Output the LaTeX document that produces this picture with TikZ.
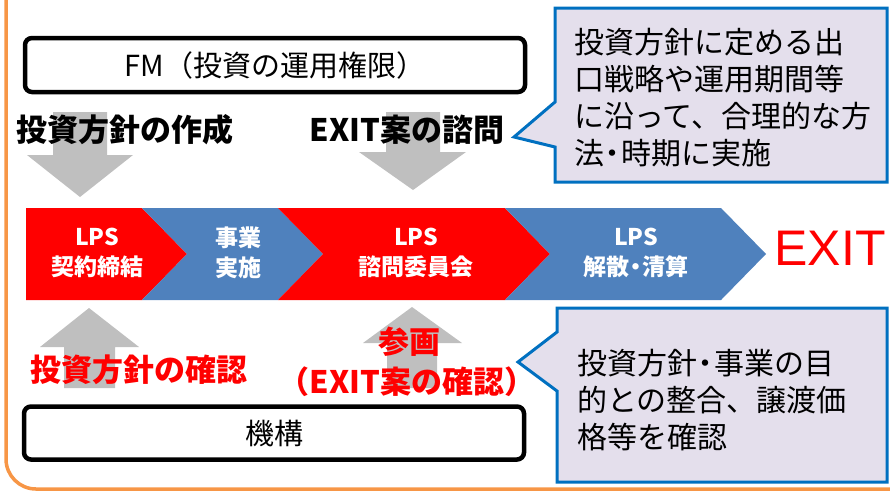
\documentclass[tikz,border=0pt]{standalone}
\usepackage{fontspec}
\setmainfont{Liberation Sans}
\newfontfamily\jp{Noto Sans CJK JP}
\usepackage{tikz}
\usetikzlibrary{positioning}
\definecolor{lpsred}{RGB}{255,0,0}
\definecolor{lpsblue}{RGB}{79,129,189}
\definecolor{arrgray}{RGB}{191,191,191}
\definecolor{frameorange}{RGB}{247,150,70}
\definecolor{notefill}{RGB}{228,223,236}
\definecolor{noteline}{RGB}{0,112,192}
\newcommand\middot{\kern-.22em・\kern-.22em}

\begin{document}
\begin{tikzpicture}[x=1pt,y=-1pt,
  box/.style={draw,line width=4.5pt,rounded corners=7pt,minimum width=500pt,minimum height=54pt,
    font=\jp\fontsize{29}{34}\selectfont},
  lbl/.style={inner sep=0pt,font=\jp\bfseries\fontsize{31}{37}\selectfont},
  lblred/.style={lbl,text=lpsred},
  band/.style={inner sep=0pt,text=white,align=center,font=\jp\bfseries\fontsize{23}{30}\selectfont},
  note/.style={inner sep=0pt,anchor=west,align=left,font=\jp\fontsize{30}{37}\selectfont},
  callout/.style={fill=notefill,draw=noteline,line width=3pt},
  garr/.style={fill=arrgray},
  redseg/.style={fill=lpsred},
  blueseg/.style={fill=lpsblue}]
\useasboundingbox (0,0) rectangle (890,491);
% frame
\draw[frameorange,line width=3.5pt,rounded corners=30pt] (6,-20) -- (6,489) -- (910,489);
% callouts
\draw[callout] (555,8) -- (887,8) -- (887,182) -- (555,182) -- (555,147) -- (514,137) -- (555,102) -- cycle;
\draw[callout] (557,308) -- (887,308) -- (887,482) -- (557,482) -- (557,391) -- (518,362) -- (557,332) -- cycle;
% gray arrows
\fill[garr] (53,112) -- (107,112) -- (107,155) -- (133,155) -- (80,197) -- (27,155) -- (53,155) -- cycle;
\fill[garr] (386,112) -- (440,112) -- (440,152) -- (466,152) -- (413,190) -- (359,152) -- (386,152) -- cycle;
\fill[garr] (64,388) -- (115,388) -- (115,347) -- (139,347) -- (89,308) -- (40,347) -- (64,347) -- cycle;
\fill[garr] (387,388) -- (437,388) -- (437,343) -- (462,343) -- (412,307) -- (363,343) -- (387,343) -- cycle;
% band
\fill[redseg] (26,208) -- (142,208) -- (187,254) -- (142,300) -- (26,300) -- cycle;
\fill[blueseg] (142,208) -- (278,208) -- (323,254) -- (278,300) -- (142,300) -- (187,254) -- cycle;
\fill[redseg] (278,208) -- (505,208) -- (550,254) -- (505,300) -- (278,300) -- (323,254) -- cycle;
\fill[blueseg] (505,208) -- (721,208) -- (766,254) -- (721,300) -- (505,300) -- (550,254) -- cycle;
\node[band] (sign) at (97,253) {LPS\\契約締結};
\node[band] (run) at (238,253) {事業\\実施};
\node[band] (board) at (416,253) {LPS\\諮問委員会};
\node[band] (close) at (636,253) {LPS\\解散\middot 清算};
\node[inner sep=0pt,text=lpsred,font=\fontsize{50}{60}\selectfont] (exit) at (830,248) {EXIT};
% boxes and labels
\node[box] (fm) at (275,65) {FM（投資の運用権限）};
\node[box,minimum height=53pt] (org) at (274,433) {機構};
\node[lbl] (plan) at (125,130) {投資方針の作成};
\node[lbl] (ask) at (407,130) {EXIT案の諮問};
\node[lblred] (check) at (139,370) {投資方針の確認};
\node[lblred] (join) at (409,342) {参画};
\node[lblred] (exitchk) at (407,382) {（EXIT案の確認）};
\node[note] (topnote) at (574,98) {投資方針に定める出\\口戦略や運用期間等\\に沿って、合理的な方\\法\middot 時期に実施};
\node[note] (botnote) at (577,400) {投資方針\middot 事業の目\\的との整合、譲渡価\\格等を確認};
\end{tikzpicture}
\end{document}
